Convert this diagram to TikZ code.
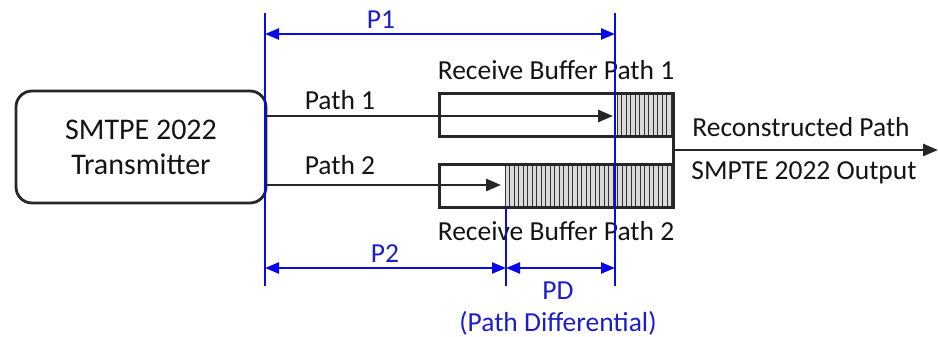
\documentclass[tikz,border=0pt]{standalone}
\usepackage{fontspec}
\setmainfont{Carlito}
\usetikzlibrary{arrows.meta}
\definecolor{dimblue}{RGB}{10,10,230}
\definecolor{dimtext}{RGB}{30,30,200}
\definecolor{txt}{RGB}{20,20,20}
\begin{document}
\begin{tikzpicture}[x=1pt,y=-1pt,
  lbl/.style={inner sep=0pt,text=txt,font=\fontsize{27.5}{30}\selectfont},
  bl/.style={inner sep=0pt,text=dimtext,font=\fontsize{27.5}{30}\selectfont},
  bufbox/.style={draw=black!85,line width=2.8pt,fill=none},
  wire/.style={draw=black!85,line width=2.8pt,-{Triangle[length=15pt,width=12pt]}},
  dimline/.style={draw=dimblue,line width=2.4pt},
  dimarrow/.style={draw=dimblue,line width=2.4pt,{Triangle[length=14pt,width=11pt]}-{Triangle[length=14pt,width=11pt]}},
  hatch/.style={draw=black!80,line width=1pt}]
\useasboundingbox (0,0) rectangle (938,337);
% transmitter
\node[draw=black!85,line width=2.8pt,rounded corners=16pt,minimum width=250pt,minimum height=112pt,
  align=center,inner sep=0pt,text=txt,font=\fontsize{30}{35}\selectfont] (tx) at (141,147) {SMTPE 2022\\Transmitter};
% buffers
\node[inner sep=0pt,minimum width=233pt,minimum height=42pt] (buf1) at (556.5,115) {};
\node[inner sep=0pt,minimum width=233pt,minimum height=42pt] (buf2) at (556.5,186) {};
\fill[black!15] (617,94) rectangle (673,136);
\fill[black!15] (505,165) rectangle (673,207);
\foreach \x in {617,621.5,...,672} {\draw[hatch] (\x,94) -- (\x,136);}
\foreach \x in {505,509.5,...,672} {\draw[hatch] (\x,165) -- (\x,207);}
\draw[bufbox] (buf1.north west) rectangle (buf1.south east);
\draw[bufbox] (buf2.north west) rectangle (buf2.south east);
\draw[draw=black!85,line width=2.8pt] (buf1.north east) -- (buf2.south east);
% path wires
\coordinate (p1end) at (613,116);
\coordinate (p2end) at (501,185);
\draw[wire] (tx.east |- p1end) -- (p1end);
\draw[wire] (tx.east |- p2end) -- (p2end);
\node[lbl] (path1) at (340,100) {Path 1};
\node[lbl] (path2) at (340,165) {Path 2};
% output
\coordinate (outstart) at (673,150);
\coordinate (outend) at (938,150);
\draw[wire] (outstart) -- (outend);
\node[lbl] (recon) at (801,127) {Reconstructed Path};
\node[lbl] (smpteout) at (804,173) {SMPTE 2022 Output};
\node[lbl] (rb1) at (556,70) {Receive Buffer Path 1};
\node[lbl] (rb2) at (556,231) {Receive Buffer Path 2};
% dimension lines
\coordinate (vA1) at (265,13); \coordinate (vA2) at (265,286);
\coordinate (vB1) at (615,13); \coordinate (vB2) at (615,286);
\coordinate (vC1) at (506,207); \coordinate (vC2) at (506,286);
\draw[dimline] (vA1) -- (vA2);
\draw[dimline] (vB1) -- (vB2);
\draw[dimline] (vC1) -- (vC2);
\coordinate (p1a) at (265,34); \coordinate (p1b) at (615,34);
\coordinate (p2a) at (265,268); \coordinate (p2b) at (506,268);
\coordinate (pda) at (506,268); \coordinate (pdb) at (615,268);
\draw[dimarrow] (p1a) -- (p1b);
\draw[dimarrow] (p2a) -- (p2b);
\draw[dimarrow] (pda) -- (pdb);
\node[bl] (P1) at (381,20) {P1};
\node[bl] (P2) at (385,254) {P2};
\node[bl] (PD) at (558,291) {PD};
\node[bl] (pdiff) at (558,323) {(Path Differential)};
\end{tikzpicture}
\end{document}
